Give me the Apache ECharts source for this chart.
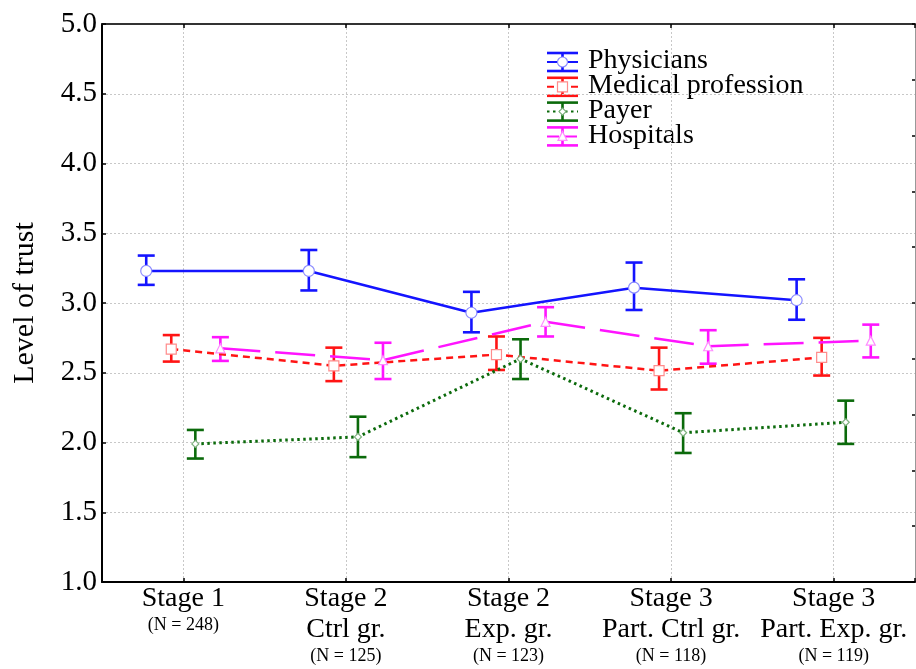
<!DOCTYPE html>
<html>
<head>
<meta charset="utf-8">
<script src="https://cdn.jsdelivr.net/npm/echarts@6/dist/echarts.min.js"></script>
<style>
html,body{margin:0;padding:0;background:#fff;}
#chart{width:916px;height:669px;}
</style>
</head>
<body>
<div id="chart"></div>
<script>
// ---- data ----
const categories = ['Stage 1', 'Stage 2\nCtrl gr.', 'Stage 2\nExp. gr.', 'Stage 3\nPart. Ctrl gr.', 'Stage 3\nPart. Exp. gr.'];
const sampleSizes = ['(N = 248)', '(N = 125)', '(N = 123)', '(N = 118)', '(N = 119)'];
const yTicks = [1.0, 1.5, 2.0, 2.5, 3.0, 3.5, 4.0, 4.5, 5.0];

const seriesNames = ['Physicians', 'Medical profession', 'Payer', 'Hospitals'];

const physiciansMean = [3.23, 3.23, 2.93, 3.11, 3.02];
const physiciansLow  = [3.13, 3.09, 2.79, 2.95, 2.88];
const physiciansHigh = [3.34, 3.38, 3.08, 3.29, 3.17];

const medicalMean = [2.67, 2.55, 2.63, 2.515, 2.61];
const medicalLow  = [2.58, 2.44, 2.52, 2.38, 2.48];
const medicalHigh = [2.77, 2.68, 2.76, 2.68, 2.75];

const payerMean = [1.99, 2.04, 2.60, 2.07, 2.145];
const payerLow  = [1.885, 1.895, 2.455, 1.925, 1.99];
const payerHigh = [2.09, 2.185, 2.74, 2.21, 2.30];

const hospitalsMean = [2.675, 2.59, 2.865, 2.69, 2.73];
const hospitalsLow  = [2.585, 2.455, 2.76, 2.565, 2.61];
const hospitalsHigh = [2.755, 2.715, 2.97, 2.805, 2.845];

// ---- styles ----
const FONT = "'Liberation Serif', 'Times New Roman', serif";
const styles = [
  {color: '#1414ff', light: '#8c8cff', symbol: 'circle', size: 11, dash: 'solid', off: -0.228},
  {color: '#ff1414', light: '#ff8c8c', symbol: 'rect', size: 10, dash: [7, 5], off: -0.074},
  {color: '#0b6a0b', light: '#7fb27f', symbol: 'diamond', size: 7, dash: [2.5, 3.5], off: 0.074},
  {color: '#ff14ff', light: '#ff8cff', symbol: 'triangle', size: 9, dash: [40, 15], off: 0.228}
];
const means = [physiciansMean, medicalMean, payerMean, hospitalsMean];
const lows = [physiciansLow, medicalLow, payerLow, hospitalsLow];
const highs = [physiciansHigh, medicalHigh, payerHigh, hospitalsHigh];

const series = [];
seriesNames.forEach((name, k) => {
  const st = styles[k];
  series.push({
    type: 'custom',
    name: name + ' err',
    xAxisIndex: 0, yAxisIndex: 0,
    silent: true, z: 3,
    data: lows[k].map((l, i) => [i + st.off, l, highs[k][i]]),
    encode: {x: 0, y: [1, 2]},
    renderItem: function (params, api) {
      const x = api.value(0);
      const lo = api.coord([x, api.value(1)]);
      const hi = api.coord([x, api.value(2)]);
      const hw = 8.5;
      const s = {stroke: st.color, lineWidth: 2.6};
      return {type: 'group', children: [
        {type: 'line', shape: {x1: lo[0], y1: lo[1], x2: hi[0], y2: hi[1]}, style: s},
        {type: 'line', shape: {x1: lo[0] - hw, y1: lo[1], x2: lo[0] + hw, y2: lo[1]}, style: s},
        {type: 'line', shape: {x1: hi[0] - hw, y1: hi[1], x2: hi[0] + hw, y2: hi[1]}, style: s}
      ]};
    }
  });
  series.push({
    type: 'line',
    name: name,
    xAxisIndex: 0, yAxisIndex: 0,
    z: 4,
    data: means[k].map((v, i) => [i + st.off, v]),
    symbol: st.symbol,
    symbolSize: st.size,
    showAllSymbol: true,
    itemStyle: {color: '#ffffff', borderColor: st.light, borderWidth: 1.2},
    lineStyle: {color: st.color, width: k === 2 ? 3 : 2.5, type: st.dash},
    emphasis: {disabled: true},
    animation: false
  });
});

// ---- legend drawn as graphic ----
const legendX = 547, legendTextX = 588, legendY0 = 62, legendDy = 24.8;
const graphic = [];
seriesNames.forEach((name, k) => {
  const st = styles[k];
  const cy = legendY0 + k * legendDy;
  const s = {stroke: st.color, lineWidth: 2.6};
  graphic.push({type: 'line', shape: {x1: legendX, y1: cy - 9, x2: legendX + 31, y2: cy - 9}, style: s});
  graphic.push({type: 'line', shape: {x1: legendX, y1: cy + 9, x2: legendX + 31, y2: cy + 9}, style: s});
  graphic.push({type: 'line', shape: {x1: legendX + 15.5, y1: cy - 9, x2: legendX + 15.5, y2: cy + 9}, style: s});
  graphic.push({type: 'line', shape: {x1: legendX, y1: cy, x2: legendX + 31, y2: cy},
    style: {stroke: st.color, lineWidth: 2, lineDash: st.dash === 'solid' ? null : (k === 3 ? [12, 6] : st.dash)}});
  let shape;
  const mx = legendX + 15.5;
  if (k === 0) shape = {type: 'circle', shape: {cx: mx, cy: cy, r: 5}};
  else if (k === 1) shape = {type: 'rect', shape: {x: mx - 5, y: cy - 5, width: 10, height: 10}};
  else if (k === 2) shape = {type: 'polygon', shape: {points: [[mx, cy - 3.5], [mx + 3.5, cy], [mx, cy + 3.5], [mx - 3.5, cy]]}};
  else shape = {type: 'polygon', shape: {points: [[mx, cy - 5], [mx + 4.5, cy + 4], [mx - 4.5, cy + 4]]}};
  shape.style = {fill: '#fff', stroke: st.light, lineWidth: 1.2};
  shape.z = 10;
  graphic.push(shape);
  graphic.push({type: 'text', left: legendTextX, top: cy - 15,
    style: {text: name, font: '28px ' + FONT, fill: '#000', textVerticalAlign: 'top'}});
});

const chart = echarts.init(document.getElementById('chart'), null, {renderer: 'canvas'});
chart.setOption({
  animation: false,
  backgroundColor: '#fff',
  grid: {left: 102, right: 1, top: 24, bottom: 87, containLabel: false, outerBoundsMode: 'none'},
  xAxis: [
    {
      type: 'value', position: 'bottom', min: -0.5, max: 4.5, splitNumber: 5,
      axisLine: {show: true, onZero: false, lineStyle: {color: '#000', width: 2}},
      axisTick: {show: true, inside: true, length: 4, lineStyle: {color: '#000', width: 1.5}},
      splitLine: {show: true, lineStyle: {color: '#c8c8c8', type: [2, 2], width: 1}},
      axisLabel: {
        margin: 1, color: '#000', fontFamily: FONT, fontSize: 28, lineHeight: 31,
        showMinLabel: true, showMaxLabel: true, hideOverlap: false,
        formatter: function (v) {
          const i = Math.round(v);
          if (Math.abs(v - i) > 1e-6 || i < 0 || i >= categories.length) return '';
          return categories[i] + '\n{n|' + sampleSizes[i] + '}';
        },
        rich: {n: {fontFamily: FONT, fontSize: 18, lineHeight: 23, color: '#000'}}
      }
    },
    {
      type: 'value', position: 'top', min: -0.5, max: 4.5, splitNumber: 5,
      axisLine: {show: true, onZero: false, lineStyle: {color: '#333', width: 2}},
      axisTick: {show: true, inside: true, length: 4, lineStyle: {color: '#000', width: 1.5}},
      splitLine: {show: false},
      axisLabel: {show: false}
    }
  ],
  yAxis: [
    {
      type: 'value', position: 'left', min: 1, max: 5, interval: 0.5,
      name: 'Level of trust', nameLocation: 'middle', nameGap: 62, nameRotate: 90,
      nameTextStyle: {fontFamily: FONT, fontSize: 30, color: '#000'},
      axisLine: {show: true, onZero: false, lineStyle: {color: '#000', width: 2}},
      axisTick: {show: true, inside: true, length: 4, lineStyle: {color: '#000', width: 1.5}},
      splitLine: {show: true, lineStyle: {color: '#c8c8c8', type: [2, 2], width: 1}},
      axisLabel: {
        margin: 5, color: '#000', fontFamily: FONT, fontSize: 29,
        formatter: function (v) { return v.toFixed(1); }
      }
    },
    {
      type: 'value', position: 'right', min: 1, max: 5, interval: 0.4,
      axisLine: {show: true, onZero: false, lineStyle: {color: '#999', width: 1}},
      axisTick: {show: true, inside: true, length: 3, lineStyle: {color: '#000', width: 1.5}},
      splitLine: {show: false},
      axisLabel: {show: false}
    }
  ],
  graphic: graphic,
  series: series
});
</script>
</body>
</html>
